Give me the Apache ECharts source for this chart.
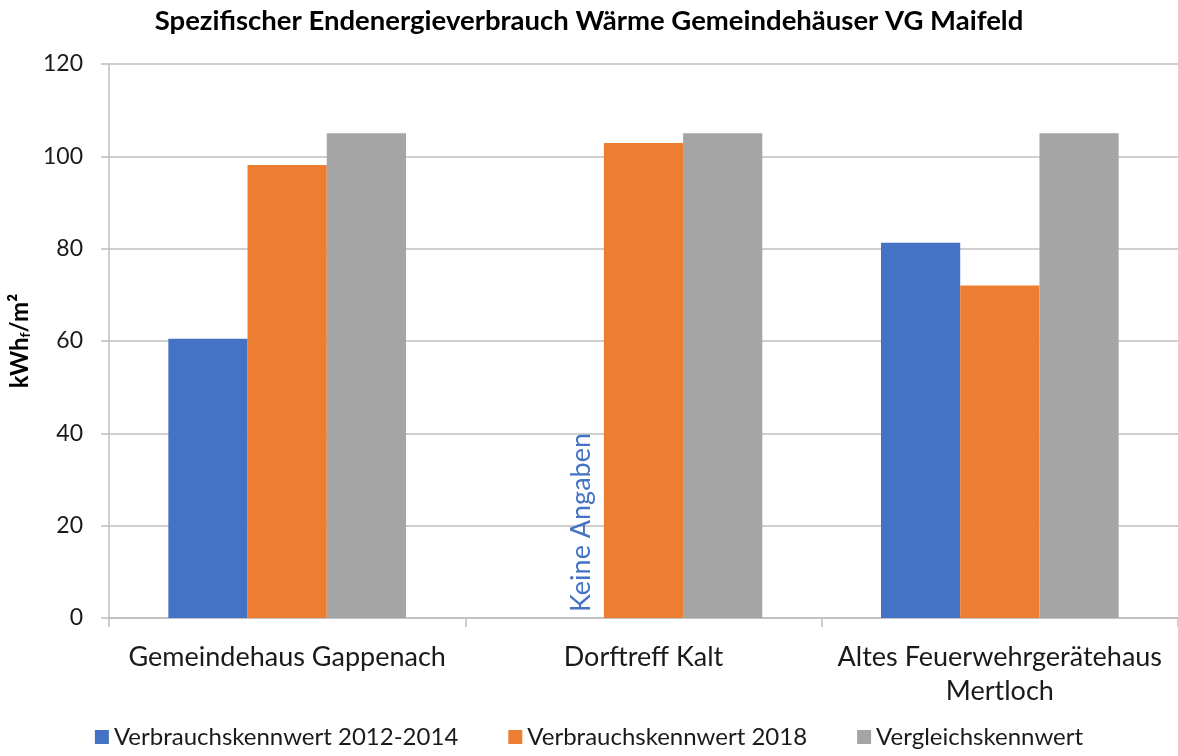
<!DOCTYPE html>
<html><head><meta charset="utf-8">
<script src="https://cdn.jsdelivr.net/npm/echarts@6/dist/echarts.min.js"></script>
<style>html,body{margin:0;padding:0;background:#fff}#c{width:1178px;height:756px}</style>
</head><body><div id="c"></div>
<script>
const categories = ['Gemeindehaus Gappenach', 'Dorftreff Kalt', 'Altes Feuerwehrgerätehaus\nMertloch'];
const seriesNames = ['Verbrauchskennwert 2012-2014', 'Verbrauchskennwert 2018', 'Vergleichskennwert'];
const values2012_2014 = [60.5, null, 81.3];
const values2018 = [98.1, 102.9, 72.0];
const valuesVergleich = [105, 105, 105];
const yTicks = [0, 20, 40, 60, 80, 100, 120];
const noDataText = 'Keine Angaben';

const font = 'Lato, "Open Sans", sans-serif';
const chart = echarts.init(document.getElementById('c'));
const blueData = values2012_2014.map(v => v === null ? {
  value: 0,
  label: {show: true, formatter: noDataText, rotate: 90, position: 'insideBottom',
    align: 'left', verticalAlign: 'middle', distance: 6, offset: [0, 17],
    color: '#4472C4', fontSize: 27, fontFamily: font}
} : v);
chart.setOption({
  animation: false,
  title: {text: 'Spezifischer Endenergieverbrauch Wärme Gemeindehäuser VG Maifeld', left: 'center', top: 2,
    textStyle: {fontSize: 27.5, fontWeight: 'bold', color: '#000', fontFamily: font}},
  legend: {bottom: 2, left: 'center', itemWidth: 14, itemHeight: 14, itemGap: 50, icon: 'rect',
    textStyle: {fontSize: 24, color: '#1a1a1a', fontFamily: font}},
  grid: {left: 109, right: 0, top: 64, bottom: 138, containLabel: false, outerBoundsMode: 'none'},
  xAxis: {type: 'category', data: categories,
    axisLine: {lineStyle: {color: '#bfbfbf', width: 1.5}},
    axisTick: {show: true, length: 9, lineStyle: {color: '#bfbfbf', width: 1.5}},
    axisLabel: {interval: 0, hideOverlap: false, fontSize: 27, color: '#1a1a1a', fontFamily: font, margin: 22, lineHeight: 34}},
  yAxis: {type: 'value', min: yTicks[0], max: yTicks[yTicks.length - 1], interval: 20,
    name: '{a|kWh}{b|f}{a|/m²}', nameLocation: 'middle', nameGap: 76, nameRotate: 90,
    nameTextStyle: {rich: {a: {fontSize: 24, fontWeight: 'bold', color: '#000', fontFamily: font},
      b: {fontSize: 14, fontWeight: 'bold', color: '#000', fontFamily: font, verticalAlign: 'bottom', padding: [10, 0, 0, 0]}}},
    axisLine: {show: true, lineStyle: {color: '#bfbfbf', width: 1.5}},
    axisTick: {show: true, length: 8, lineStyle: {color: '#bfbfbf', width: 1.5}},
    splitLine: {lineStyle: {color: '#bfbfbf', width: 1.5}},
    axisLabel: {fontSize: 23, color: '#1a1a1a', fontFamily: font, margin: 26}},
  series: [
    {name: seriesNames[0], type: 'bar', data: blueData, barGap: '0%', barCategoryGap: '33.3%', itemStyle: {color: '#4472C4'}},
    {name: seriesNames[1], type: 'bar', data: values2018, itemStyle: {color: '#ED7D31'}},
    {name: seriesNames[2], type: 'bar', data: valuesVergleich, itemStyle: {color: '#A5A5A5'}}
  ]
});
</script></body></html>
